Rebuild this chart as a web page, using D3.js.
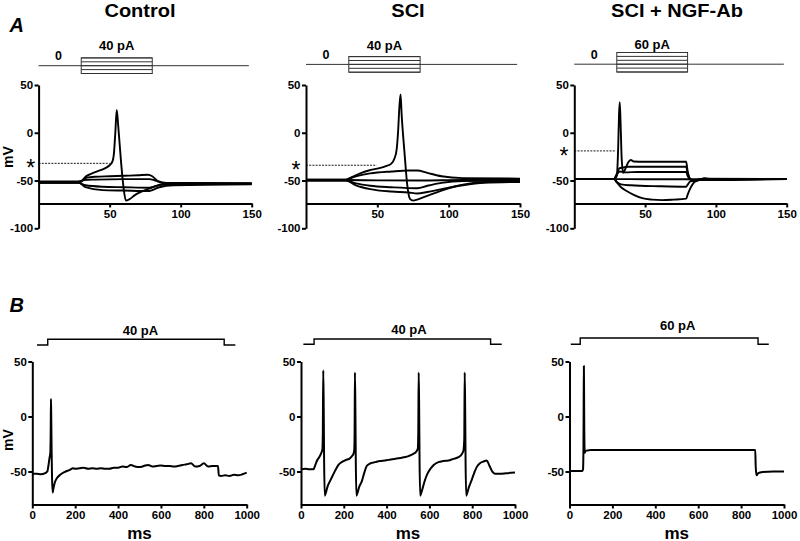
<!DOCTYPE html>
<html><head><meta charset="utf-8">
<script src="https://cdn.jsdelivr.net/npm/d3@7"></script>
<style>
html,body{margin:0;padding:0;background:#fff;}
svg{display:block;font-family:"Liberation Sans",Arial,Helvetica,sans-serif;}
</style></head>
<body>
<svg id="chart" width="800" height="541"></svg>
<script>
// ---------------- DATA ----------------
const titles = ["Control", "SCI", "SCI + NGF-Ab"];
const stimLabelsA = ["40 pA", "40 pA", "60 pA"];
const stimLabelsB = ["40 pA", "40 pA", "60 pA"];
const yTicksA = [50, 0, -50, -100];
const xTicksA = [50, 100, 150];
const yTicksB = [50, 0, -50];
const xTicksB = [0, 200, 400, 600, 800, 1000];

// stimulus step levels (relative units) for panel A families
const stimLevelsCtrlA = [-2, -1, 0, 1, 2];
const stimLevelsSciA  = [-2, -1, 0, 1, 2];
const stimLevelsNgfA  = [-2, -1, 0, 1, 2, 3];
const stimWindowA = [30, 80];      // ms
const stimSpanA = [0, 148];        // ms

// threshold (asterisk) markers: [time end of dashed line, mV]
const thresholdCtrl = [50, -32];
const thresholdSci  = [49.5, -34];
const thresholdNgf  = [29.5, -19];

// ---- Panel A, Control family ([ms, mV])
const ctrlA_spike = [[0,-51.5],[28,-51.5],[30,-51],[33,-46],[37,-43],[42,-40],[47,-37],[50,-34],[52,-30],[53,-22],[54,0],[55,24],[56,8],[58,-30],[60,-60],[61.5,-71],[64,-69.5],[68,-65],[72,-62],[76,-59.5],[79,-58],[82,-56],[86,-54],[100,-53],[150,-53]];
const ctrlA_sub1  = [[0,-51],[28,-51],[30,-50.5],[34,-47],[40,-46],[50,-45.5],[60,-45],[70,-44.5],[77,-44],[80,-45.5],[84,-50.5],[90,-52.5],[150,-53]];
const ctrlA_sub2  = [[0,-52],[28,-52],[32,-49.5],[40,-49],[60,-48.5],[78,-48.5],[82,-50],[88,-52.5],[150,-53]];
const ctrlA_hyp1  = [[0,-52.5],[28,-52.5],[33,-55],[45,-56.5],[60,-57],[78,-57.5],[82,-56],[90,-54],[150,-53.5]];
const ctrlA_hyp2  = [[0,-52],[28,-52],[33,-57],[45,-60],[60,-60.5],[78,-61],[80,-60],[85,-57],[95,-55],[150,-54]];

// ---- Panel A, SCI family
const sciA_spike = [[0,-49],[28,-49],[32,-46.5],[38,-42.5],[44,-39.5],[50,-37.5],[56,-35],[60,-32],[62,-27],[63.5,-18],[64.5,0],[65.5,28],[66.3,40],[67,20],[69,-20],[71,-55],[73,-69.5],[75,-71],[78,-70],[85,-66],[95,-60.5],[105,-56],[115,-53],[125,-51.5],[150,-50.5]];
const sciA_sub1  = [[0,-49],[28,-49],[35,-45.5],[45,-42.5],[60,-40.5],[72,-39.5],[78,-39.5],[85,-42],[95,-45.5],[110,-47.5],[150,-48]];
const sciA_sub2  = [[0,-49.5],[28,-49.5],[50,-49.8],[80,-50],[110,-49.5],[150,-49.5]];
const sciA_hyp1  = [[0,-50],[28,-50],[35,-53],[45,-55.5],[60,-57],[78,-58],[85,-55.5],[95,-52.5],[110,-50.5],[150,-50]];
const sciA_hyp2  = [[0,-50],[28,-50],[35,-55],[45,-59],[60,-61.5],[72,-62.5],[78,-63.5],[85,-62],[95,-59],[110,-55],[125,-52.5],[150,-51.5]];

// ---- Panel A, SCI + NGF-Ab family
const ngfA_spike = [[0,-48.5],[28,-48.5],[30,-45],[31,-15],[31.6,20],[32.1,32],[32.7,10],[33.4,-25],[34.5,-42],[36,-38],[38,-31],[40,-28.5],[42,-30],[50,-30.3],[79,-30.3],[80,-40],[82,-49],[85,-51],[88,-49.5],[92,-47.5],[96,-48.5],[150,-48.5]];
const ngfA_d1    = [[0,-48.5],[28,-48.5],[30,-43],[32,-37],[34,-36.5],[38,-35.5],[79,-35.5],[80,-42],[83,-49.5],[86,-50],[92,-48],[150,-48.5]];
const ngfA_d2    = [[0,-48.5],[28,-48.5],[30,-44],[32,-40.5],[36,-41.5],[45,-41],[79,-41],[80,-45],[83,-49.5],[150,-48.5]];
const ngfA_base  = [[0,-48.5],[28,-48.5],[50,-48.6],[79,-48.6],[150,-48.5]];
const ngfA_hyp1  = [[0,-48.5],[28,-48.5],[30,-51.5],[33,-54],[40,-55],[60,-56],[79,-56.5],[80,-54.5],[82,-51],[85,-50],[90,-48.5],[150,-48.5]];
const ngfA_hyp2  = [[0,-48.5],[28,-48.5],[30,-52],[33,-57],[37,-61],[42,-65],[48,-68.5],[55,-70],[62,-70.5],[70,-70],[79,-69],[80,-65],[82,-58],[84,-53],[86,-50],[88,-48.5],[150,-48.5]];

// ---- Panel B traces ([ms, mV])
const ctrlB = [[0,-52],[20,-52],[40,-52.5],[60,-51.5],[70,-50],[75,-45],[80,-38],[84,-33],[86,-10],[87,16],[88,5],[90,-30],[92,-55],[95,-69],[98,-66],[105,-60],[115,-56],[130,-53],[150,-50.5],[175,-48.5],[190,-47],[200,-47.5],[220,-47],[240,-46.5],[260,-47.5],[280,-47],[300,-47.5],[320,-47],[340,-47.5],[360,-47.5],[380,-46.5],[400,-46.5],[420,-45.5],[440,-46],[460,-44],[480,-45.5],[500,-46],[520,-45],[540,-44],[560,-45.5],[580,-45],[600,-44.5],[620,-45],[640,-45],[660,-45.5],[680,-45],[700,-44],[720,-43.5],[740,-42.5],[760,-45.5],[780,-45],[800,-42.5],[820,-45.5],[840,-45],[860,-45],[866,-45],[870,-53.5],[880,-54],[900,-53.5],[920,-54],[940,-53],[960,-53.5],[980,-52.5],[1000,-51]];
const sciB = [[0,-48],[20,-47.5],[40,-48],[58,-48],[67,-44],[75,-40],[85,-37],[95,-33],[100,-30],[102,-15],[104,42],[106,10],[108,-40],[111,-72],[115,-70],[125,-63],[135,-59],[150,-53],[160,-49],[175,-44],[190,-41.5],[210,-39.5],[225,-38.5],[238,-36],[245,-34],[249,-30],[250.5,-15],[252,40],[254,10],[256,-40],[259,-72],[263,-70],[272,-64],[284,-59],[296,-51],[307,-45],[325,-42.5],[346,-41.5],[370,-40.5],[392,-40],[420,-39],[455,-38],[480,-37],[502,-36],[525,-34],[540,-31.5],[546,-29],[548,-15],[550,40],[552,10],[554,-40],[557,-72],[561,-70],[570,-64],[579,-58],[591,-52],[603,-48],[620,-44],[642,-41.5],[665,-40.5],[689,-40],[712,-38.5],[736,-37],[752,-34],[759,-31],[763,-20],[765,40],[767,10],[769,-40],[772,-72],[776,-70],[785,-64],[797,-58],[810,-51],[821,-46],[836,-42.5],[852,-41],[868,-40],[880,-44.5],[891,-49],[907,-52],[930,-52],[960,-51.5],[1000,-51]];
const ngfB = [[0,-49.5],[30,-49.5],[60,-49.5],[63,-48],[65,-30],[66,10],[67,46],[68,20],[69,-15],[71,-33],[74,-31.5],[80,-31],[100,-30.5],[200,-30.5],[300,-30.5],[400,-30.5],[500,-30.5],[600,-30.5],[700,-30.5],[800,-30.5],[866,-30.5],[868,-45],[872,-53.5],[880,-51.5],[900,-50.5],[950,-50],[1000,-50]];

// stimulus waveforms for panel B: [ms, level 0/1]
const stimCtrlB = [[22,0],[72,0],[72,1],[895,1],[895,0],[947,0]];
const stimSciB  = [[11,0],[61,0],[61,1],[886,1],[886,0],[938,0]];
const stimNgfB  = [[6,0],[50,0],[50,1],[879,1],[879,0],[929,0]];

// ---------------- LAYOUT ----------------
const svg = d3.select("#chart");
const FONT = '"Liberation Sans",Arial,Helvetica,sans-serif';

const panelsA = [
  {title: titles[0], x: [38.6, 251.7], stimBase: 65.7, levels: stimLevelsCtrlA, label: stimLabelsA[0], labelY: 50,
   traces: [ctrlA_sub1, ctrlA_sub2, ctrlA_hyp1, ctrlA_hyp2, ctrlA_spike], thr: thresholdCtrl, astX: 30.7, titleX: 140, mV: true},
  {title: titles[1], x: [306, 520], stimBase: 64.4, levels: stimLevelsSciA, label: stimLabelsA[1], labelY: 50,
   traces: [sciA_sub1, sciA_sub2, sciA_hyp1, sciA_hyp2, sciA_spike], thr: thresholdSci, astX: 296, titleX: 408, mV: false},
  {title: titles[2], x: [574.3, 786.7], stimBase: 64.2, levels: stimLevelsNgfA, label: stimLabelsA[2], labelY: 48.5,
   traces: [ngfA_d1, ngfA_d2, ngfA_base, ngfA_hyp1, ngfA_hyp2, ngfA_spike], thr: thresholdNgf, astX: 564, titleX: 677, mV: false}
];
const panelsB = [
  {x: [32.3, 246.7], trace: ctrlB, stim: stimCtrlB, stimY: [345, 339.3], label: stimLabelsB[0], labelY: 334.5, mV: true},
  {x: [301, 515], trace: sciB, stim: stimSciB, stimY: [344.3, 339], label: stimLabelsB[1], labelY: 334, mV: false},
  {x: [569.5, 784], trace: ngfB, stim: stimNgfB, stimY: [344.3, 338], label: stimLabelsB[2], labelY: 330, mV: false}
];

const fmt = d => String(d);

function styleAxis(g) {
  g.select(".domain").attr("stroke", "#000").attr("stroke-width", 2);
  g.selectAll(".tick line").attr("stroke", "#000").attr("stroke-width", 2);
  g.selectAll(".tick text").attr("fill", "#000").attr("font-family", FONT)
    .attr("font-weight", "bold").attr("font-size", "11.5px");
}

const lineGen = (x, y) => d3.line().x(d => x(d[0])).y(d => y(d[1])).curve(d3.curveMonotoneX);

// Panel letters
svg.append("text").attr("x", 9.5).attr("y", 32).text("A")
  .attr("font-family", FONT).attr("font-weight", "bold").attr("font-style", "italic").attr("font-size", "20px");
svg.append("text").attr("x", 9.5).attr("y", 311.5).text("B")
  .attr("font-family", FONT).attr("font-weight", "bold").attr("font-style", "italic").attr("font-size", "20px");

// ---------------- PANEL A ----------------
panelsA.forEach(p => {
  const x = d3.scaleLinear().domain([0, 150]).range(p.x);
  const y = d3.scaleLinear().domain([-100, 50]).range([228.3, 85]);
  const sy = d3.scaleLinear().domain([0, 1]).range([p.stimBase, p.stimBase - 3.9]);

  // title (slightly widened to match the reference lettering)
  svg.append("text").attr("transform", `translate(${p.titleX},17) scale(1.1,1)`).attr("text-anchor", "middle")
    .attr("font-family", FONT).attr("font-weight", "bold").attr("font-size", "18.2px").text(p.title);

  // stimulus schematic
  const sg = svg.append("g").attr("stroke", "#333").attr("stroke-width", 1).attr("fill", "none");
  sg.append("line").attr("x1", x(stimSpanA[0])).attr("x2", x(stimSpanA[1]))
    .attr("y1", sy(0)).attr("y2", sy(0));
  const lo = d3.min(p.levels), hi = d3.max(p.levels);
  sg.append("rect").attr("x", x(stimWindowA[0])).attr("width", x(stimWindowA[1]) - x(stimWindowA[0]))
    .attr("y", sy(hi)).attr("height", sy(lo) - sy(hi));
  p.levels.forEach(l => {
    sg.append("line").attr("x1", x(stimWindowA[0])).attr("x2", x(stimWindowA[1]))
      .attr("y1", sy(l)).attr("y2", sy(l));
  });
  svg.append("text").attr("x", x(14)).attr("y", sy(0) - 5.5).attr("text-anchor", "middle")
    .attr("font-family", FONT).attr("font-weight", "bold").attr("font-size", "12.5px").text("0");
  svg.append("text").attr("x", x(55)).attr("y", p.labelY).attr("text-anchor", "middle")
    .attr("font-family", FONT).attr("font-weight", "bold").attr("font-size", "13px").text(p.label);

  // axes
  const gy = svg.append("g").attr("transform", `translate(${p.x[0]},0)`)
    .call(d3.axisLeft(y).tickValues(yTicksA).tickFormat(fmt).tickSize(4).tickSizeOuter(0).tickPadding(1.5));
  styleAxis(gy);
  const gx = svg.append("g").attr("transform", `translate(0,${y(-74)})`)
    .call(d3.axisBottom(x).tickValues(xTicksA).tickFormat(fmt).tickSize(4).tickSizeOuter(0).tickPadding(2.5));
  styleAxis(gx);

  // threshold dashed line + asterisk
  svg.append("line").attr("x1", p.x[0]).attr("x2", x(p.thr[0]))
    .attr("y1", y(p.thr[1])).attr("y2", y(p.thr[1]))
    .attr("stroke", "#000").attr("stroke-width", 0.9).attr("stroke-dasharray", "2,1.2");
  svg.append("text").attr("x", p.astX).attr("y", y(p.thr[1]) + 12.6).attr("text-anchor", "middle")
    .attr("font-family", FONT).attr("font-size", "23px").text("*");

  // traces
  const lg = lineGen(x, y);
  svg.append("g").selectAll("path").data(p.traces).join("path")
    .attr("d", lg).attr("fill", "none").attr("stroke", "#000").attr("stroke-width", 1.9)
    .attr("stroke-linejoin", "round");

  if (p.mV) {
    svg.append("text").attr("transform", `translate(13,157) rotate(-90)`).attr("text-anchor", "middle")
      .attr("font-family", FONT).attr("font-weight", "bold").attr("font-size", "14px").text("mV");
  }
});

// ---------------- PANEL B ----------------
panelsB.forEach(p => {
  const x = d3.scaleLinear().domain([0, 1000]).range(p.x);
  const y = d3.scaleLinear().domain([-80, 50]).range([504.5, 361.5]);
  const sy = d3.scaleLinear().domain([0, 1]).range(p.stimY);

  // stimulus
  svg.append("path").datum(p.stim)
    .attr("d", d3.line().x(d => x(d[0])).y(d => sy(d[1])))
    .attr("fill", "none").attr("stroke", "#000").attr("stroke-width", 1.4);
  svg.append("text").attr("x", (p.x[0] + p.x[1]) / 2 + 1).attr("y", p.labelY).attr("text-anchor", "middle")
    .attr("font-family", FONT).attr("font-weight", "bold").attr("font-size", "13px").text(p.label);

  const gy = svg.append("g").attr("transform", `translate(${p.x[0]},0)`)
    .call(d3.axisLeft(y).tickValues(yTicksB).tickFormat(fmt).tickSize(4).tickSizeOuter(0).tickPadding(1.5));
  styleAxis(gy);
  const gx = svg.append("g").attr("transform", `translate(0,${y(-80)})`)
    .call(d3.axisBottom(x).tickValues(xTicksB).tickFormat(fmt).tickSize(4).tickSizeOuter(0).tickPadding(2.5));
  styleAxis(gx);

  svg.append("path").datum(p.trace).attr("d", lineGen(x, y))
    .attr("fill", "none").attr("stroke", "#000").attr("stroke-width", 2).attr("stroke-linejoin", "round");

  svg.append("text").attr("x", (p.x[0] + p.x[1]) / 2).attr("y", 538.5).attr("text-anchor", "middle")
    .attr("font-family", FONT).attr("font-weight", "bold").attr("font-size", "17px").text("ms");

  if (p.mV) {
    svg.append("text").attr("transform", `translate(13,440) rotate(-90)`).attr("text-anchor", "middle")
      .attr("font-family", FONT).attr("font-weight", "bold").attr("font-size", "14px").text("mV");
  }
});
</script>
</body></html>
